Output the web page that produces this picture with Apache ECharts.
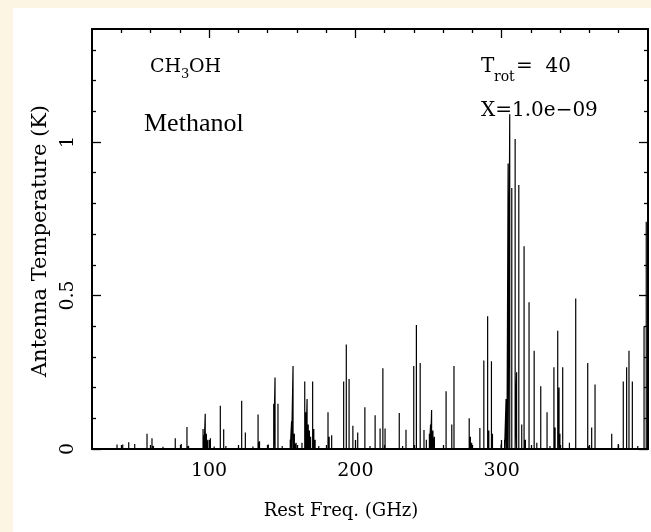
<!DOCTYPE html>
<html>
<head>
<meta charset="utf-8">
<script src="https://cdn.jsdelivr.net/npm/echarts@6/dist/echarts.min.js"></script>
<style>
html,body{margin:0;padding:0;background:#fdf5e4;}
#c{width:651px;height:532px;}
</style>
</head>
<body>
<div id="c"></div>
<script>
// Line frequencies (GHz) and antenna temperatures (K)
var freqs = [25.0,33.0,37.1,41.0,45.1,47.0,49.2,57.6,61.0,62.0,68.5,76.9,81.0,84.9,86.0,95.9,96.6,97.4,98.2,99.2,100.9,103.5,107.7,110.0,111.5,118.0,122.3,124.8,130.0,133.5,134.5,140.5,144.2,145.1,147.1,150.0,155.5,156.4,157.4,158.3,159.5,163.5,165.4,166.2,167.0,167.8,168.6,169.4,170.8,171.6,172.5,175.0,181.3,182.1,183.8,186.0,192.0,193.8,195.7,198.3,201.6,206.5,210.0,213.5,216.9,218.8,220.3,225.0,230.0,232.3,234.6,239.9,241.7,244.3,246.9,248.5,250.6,251.4,252.1,253.0,254.0,258.0,262.0,265.9,267.4,277.8,278.6,279.5,285.1,287.8,290.4,291.2,293.0,293.7,297.0,299.6,302.0,303.0,303.6,304.4,305.5,306.9,309.2,310.2,311.7,313.7,315.3,316.2,318.7,322.2,324.0,326.7,331.0,333.0,335.7,336.5,338.3,339.2,339.8,341.7,346.3,350.6,358.8,360.0,361.5,363.8,375.2,379.7,383.1,385.4,387.0,389.3,393.0,397.3,398.8];
var temps = [0.006,0.004,0.015,0.015,0.022,0.006,0.016,0.05,0.035,0.01,0.007,0.035,0.016,0.072,0.01,0.065,0.045,0.115,0.05,0.03,0.035,0.008,0.141,0.064,0.01,0.006,0.157,0.054,0.008,0.112,0.025,0.015,0.147,0.233,0.147,0.01,0.03,0.09,0.27,0.05,0.02,0.02,0.22,0.12,0.163,0.08,0.06,0.04,0.22,0.065,0.03,0.01,0.12,0.04,0.045,0.005,0.22,0.34,0.228,0.076,0.054,0.136,0.01,0.11,0.067,0.263,0.067,0.006,0.117,0.01,0.063,0.27,0.404,0.28,0.062,0.03,0.05,0.08,0.127,0.06,0.04,0.006,0.188,0.08,0.27,0.1,0.04,0.02,0.068,0.288,0.432,0.06,0.286,0.05,0.006,0.015,0.03,0.163,0.06,0.93,1.09,0.85,1.01,0.25,0.86,0.08,0.66,0.03,0.478,0.32,0.02,0.204,0.12,0.01,0.266,0.07,0.385,0.2,0.05,0.266,0.02,0.49,0.28,0.01,0.07,0.21,0.05,0.016,0.22,0.266,0.32,0.22,0.01,0.40,0.74];

var xMajor = [100, 200, 300];
var xMinor = [40,60,80,120,140,160,180,220,240,260,280,320,340,360,380];
var xLabels = ['100', '200', '300'];
var yMajor = [0, 0.5, 1];
var yMinor = [0.1,0.2,0.3,0.4,0.6,0.7,0.8,0.9,1.1,1.2,1.3];
var yLabels = ['0', '0.5', '1'];

var SERIF = '"DejaVu Serif", serif';

var spectrum = [];
for (var i = 0; i < freqs.length; i++) {
  spectrum.push([freqs[i], 0], [freqs[i], temps[i]], [freqs[i], 0]);
}

function xAx(pos, ticks, len, showLine, showLabel) {
  return {
    type: 'value', position: pos, min: 20, max: 400, gridIndex: 0,
    axisLine: {show: showLine, onZero: false, lineStyle: {color: '#000', width: 2}},
    axisTick: {show: true, inside: true, length: len, customValues: ticks, lineStyle: {color: '#000', width: 1.3}},
    axisLabel: {show: showLabel, customValues: xMajor, margin: 13, color: '#000', fontFamily: SERIF, fontSize: 19,
      formatter: function (v) { var k = xMajor.indexOf(v); return k >= 0 ? xLabels[k] : ''; }},
    splitLine: {show: false}
  };
}
function yAx(pos, ticks, len, showLine, showLabel) {
  return {
    type: 'value', position: pos, min: 0, max: 1.368, gridIndex: 0,
    axisLine: {show: showLine, onZero: false, lineStyle: {color: '#000', width: 2}},
    axisTick: {show: true, inside: true, length: len, customValues: ticks, lineStyle: {color: '#000', width: 1.3}},
    axisLabel: {show: showLabel, customValues: yMajor, rotate: 90, margin: 14, color: '#000', fontFamily: SERIF, fontSize: 19,
      formatter: function (v) { var k = yMajor.indexOf(v); return k >= 0 ? yLabels[k] : ''; }},
    splitLine: {show: false}
  };
}

var chart = echarts.init(document.getElementById('c'), null, {renderer: 'canvas'});
chart.setOption({
  animation: false,
  backgroundColor: '#fdf5e4',
  grid: {left: 92, right: 3, top: 29, bottom: 83, show: false},
  xAxis: [
    xAx('bottom', xMajor, 9, true, true),
    xAx('bottom', xMinor, 4, false, false),
    xAx('top', xMajor, 9, true, false),
    xAx('top', xMinor, 4, false, false)
  ],
  yAxis: [
    yAx('left', yMajor, 9, true, true),
    yAx('left', yMinor, 4, false, false),
    yAx('right', yMajor, 9, true, false),
    yAx('right', yMinor, 4, false, false)
  ],
  graphic: [
    {type: 'rect', z: -10, shape: {x: 13, y: 8, width: 640, height: 526}, style: {fill: '#ffffff'}},
    {type: 'text', x: 41, y: 241, rotation: Math.PI / 2, z: 10,
      style: {text: 'Antenna Temperature (K)', font: '21px "DejaVu Serif"', fill: '#000', align: 'center', verticalAlign: 'middle'}},
    {type: 'text', x: 341, y: 511, z: 10,
      style: {text: 'Rest Freq. (GHz)', font: '18px "DejaVu Serif"', fill: '#000', align: 'center', verticalAlign: 'middle'}},
    {type: 'text', x: 150, y: 67, z: 10,
      style: {text: 'CH', font: '19px "DejaVu Serif"', fill: '#000', align: 'left', verticalAlign: 'middle'}},
    {type: 'text', x: 181, y: 75, z: 10,
      style: {text: '3', font: '13px "DejaVu Serif"', fill: '#000', align: 'left', verticalAlign: 'middle'}},
    {type: 'text', x: 189, y: 67, z: 10,
      style: {text: 'OH', font: '19px "DejaVu Serif"', fill: '#000', align: 'left', verticalAlign: 'middle'}},
    {type: 'text', x: 144, y: 124, z: 10,
      style: {text: 'Methanol', font: '26px "Liberation Serif"', fill: '#000', align: 'left', verticalAlign: 'middle'}},
    {type: 'text', x: 481, y: 67, z: 10,
      style: {text: 'T', font: '20px "DejaVu Serif"', fill: '#000', align: 'left', verticalAlign: 'middle'}},
    {type: 'text', x: 494, y: 77, z: 10,
      style: {text: 'rot', font: '14px "DejaVu Serif"', fill: '#000', align: 'left', verticalAlign: 'middle'}},
    {type: 'text', x: 516, y: 67, z: 10,
      style: {text: '=  40', font: '20px "DejaVu Serif"', fill: '#000', align: 'left', verticalAlign: 'middle'}},
    {type: 'text', x: 481, y: 111, z: 10,
      style: {text: 'X=1.0e\u221209', font: '20px "DejaVu Serif"', fill: '#000', align: 'left', verticalAlign: 'middle'}}
  ],
  series: [{
    type: 'line', xAxisIndex: 0, yAxisIndex: 0,
    data: spectrum, showSymbol: false, symbol: 'none',
    lineStyle: {color: '#000', width: 1.2}, z: 3
  }]
});
</script>
</body>
</html>
